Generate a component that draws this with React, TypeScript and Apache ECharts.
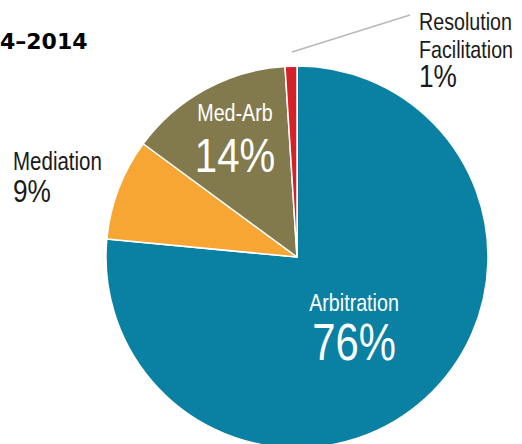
import React, { useEffect, useRef } from "react";
import * as echarts from "echarts";

const categories = ["Arbitration", "Mediation", "Med-Arb", "Resolution Facilitation"];
// slice shares
const shares = [76.5, 8.6, 13.9, 1.0];
// percentages as printed on the labels
const labelPercents = [76, 9, 14, 1];
const colors = ["#0a80a2", "#f7a533", "#827a4d", "#d8202b"];
const labelLines = [["Arbitration"], ["Mediation"], ["Med-Arb"], ["Resolution", "Facilitation"]];
const titleText = "4–2014";

const FONT = "'Liberation Sans', Arial, sans-serif";
const SX = 0.82;

export default function App() {
  const ref = useRef<HTMLDivElement>(null);
  useEffect(() => {
    if (!ref.current) return;
    const chart = echarts.init(ref.current, undefined, { renderer: "svg" });

    const layouts: any[] = [
      { x: 354, ys: [302.5], vy: 343, align: "center", color: "#ffffff", ns: 24, vs: 51 },
      { x: 13, ys: [161.5], vy: 191, align: "left", color: "#1a1a1a", ns: 25, vs: 32 },
      { x: 235, ys: [113], vy: 155, align: "center", color: "#ffffff", ns: 24, vs: 49 },
      { x: 419, ys: [21.5, 49.5], vy: 76, align: "left", color: "#1a1a1a", ns: 24, vs: 32 },
    ];

    const texts: any[] = [];
    categories.forEach((c, i) => {
      const L = layouts[i];
      labelLines[i].forEach((t, j) => {
        texts.push({
          type: "text",
          x: L.x,
          y: L.ys[j],
          scaleX: SX,
          z: 100,
          style: {
            text: t,
            fill: L.color,
            font: `normal ${L.ns}px ${FONT}`,
            align: L.align,
            verticalAlign: "middle",
          },
        });
      });
      texts.push({
        type: "text",
        x: L.x,
        y: L.vy,
        scaleX: SX,
        z: 100,
        style: {
          text: `${labelPercents[i]}%`,
          fill: L.color,
          font: `normal ${L.vs}px ${FONT}`,
          align: L.align,
          verticalAlign: "middle",
        },
      });
    });

    texts.push({
      type: "text",
      x: 0,
      y: 41,
      z: 100,
      style: {
        text: titleText,
        fill: "#000000",
        font: "bold 22px 'DejaVu Sans', sans-serif",
        align: "left",
        verticalAlign: "middle",
      },
    });
    texts.push({
      type: "line",
      z: 100,
      shape: { x1: 292, y1: 52, x2: 410, y2: 15 },
      style: { stroke: "#b8b8b8", lineWidth: 1.5 },
    });

    chart.setOption({
      animation: false,
      backgroundColor: "#ffffff",
      series: [
        {
          type: "pie",
          center: [297, 257],
          radius: [0, 191],
          startAngle: 90,
          clockwise: true,
          label: { show: false },
          labelLine: { show: false },
          silent: true,
          z: 1,
          itemStyle: { borderColor: "#ffffff", borderWidth: 1.5 },
          data: categories.map((c, i) => ({
            name: c,
            value: shares[i],
            itemStyle: { color: colors[i] },
          })),
        },
      ],
      graphic: texts,
    });
    return () => chart.dispose();
  }, []);
  return (
    <div
      ref={ref}
      style={{ position: "fixed", left: 0, top: 0, width: 522, height: 444 }}
    />
  );
}
